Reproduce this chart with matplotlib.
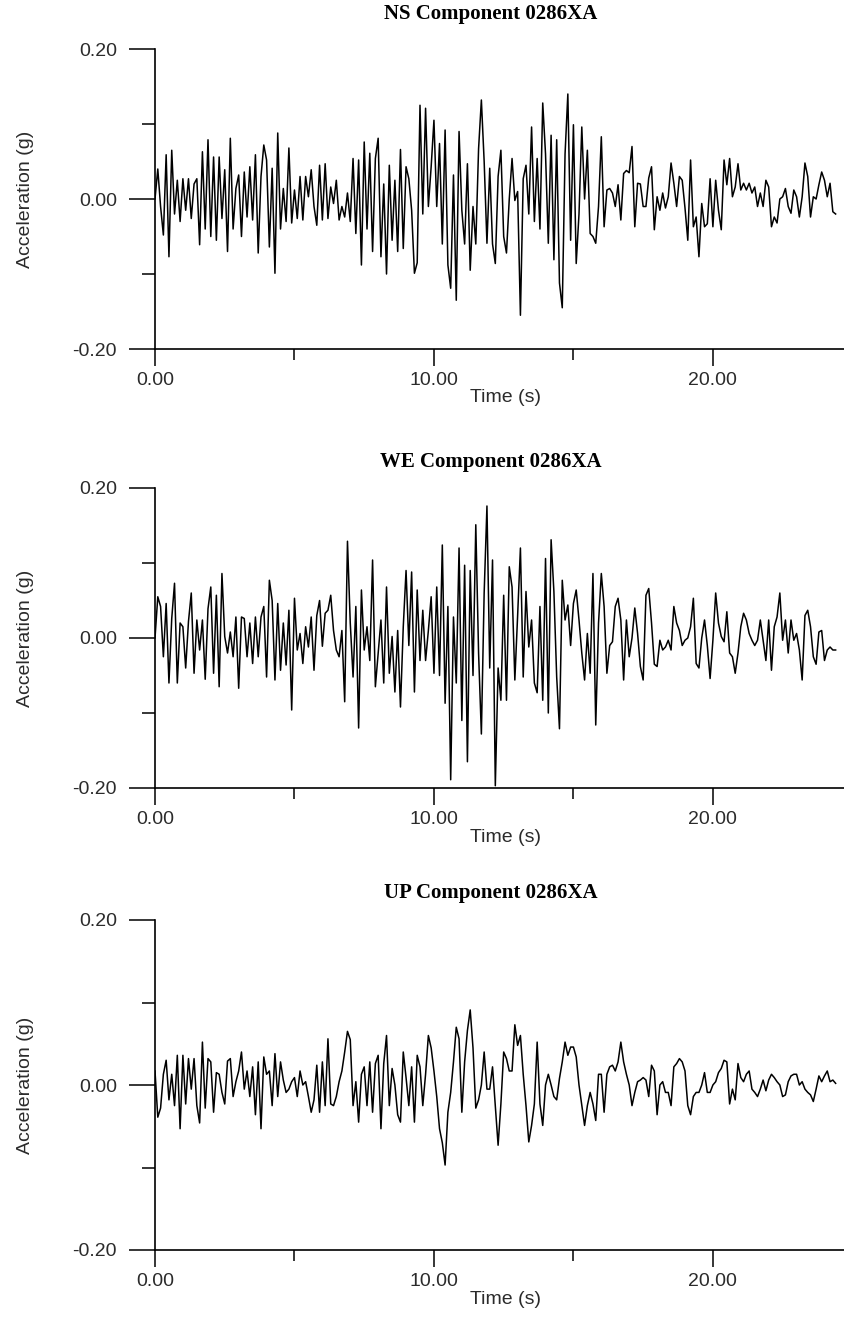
import numpy as np
import matplotlib
matplotlib.use("Agg")
import matplotlib.pyplot as plt
from matplotlib.ticker import FixedLocator

DT = 0.1  # sample step (s) of the traces

ns_acc = [
    0.00, 0.04, -0.01, -0.048, 0.059, -0.077, 0.065, -0.02, 0.025, -0.03,
    0.027, -0.015, 0.027, -0.026, 0.02, 0.027, -0.061, 0.063, -0.04, 0.079,
    -0.05, 0.056, -0.055, 0.056, -0.026, 0.039, -0.07, 0.081, -0.04, 0.014,
    0.032, -0.05, 0.036, -0.024, 0.043, -0.028, 0.059, -0.072, 0.03, 0.072,
    0.052, -0.064, 0.041, -0.099, 0.088, -0.04, 0.014, -0.03, 0.068, -0.032,
    0.012, -0.026, 0.03, -0.028, 0.03, 0.003, 0.039, -0.01, -0.035, 0.045,
    -0.028, 0.047, -0.026, 0.016, -0.006, 0.025, -0.028, -0.01, -0.024, 0.008,
    -0.03, 0.054, -0.046, 0.052, -0.088, 0.076, -0.04, 0.061, -0.07, 0.054,
    0.081, -0.077, 0.02, -0.10, 0.045, -0.055, 0.025, -0.07, 0.066, -0.066,
    0.043, 0.027, -0.015, -0.099, -0.085, 0.125, -0.02, 0.121, -0.01, 0.043,
    0.105, -0.01, 0.074, -0.06, 0.092, -0.088, -0.119, 0.032, -0.135, 0.09,
    -0.015, -0.06, 0.047, -0.095, -0.01, -0.06, 0.067, 0.132, 0.05, -0.059,
    0.041, -0.06, -0.086, 0.03, 0.065, -0.05, -0.072, 0.0, 0.054, -0.002,
    0.01, -0.155, 0.027, 0.045, -0.02, 0.096, -0.03, 0.054, -0.04, 0.128,
    0.06, -0.059, 0.085, -0.081, 0.079, -0.112, -0.145, 0.06, 0.14, -0.055,
    0.099, -0.086, -0.02, 0.096, 0.0, 0.065, -0.046, -0.05, -0.059, -0.01,
    0.083, -0.037, 0.012, 0.014, 0.008, -0.01, 0.019, -0.028, 0.034, 0.038,
    0.035, 0.07, -0.037, 0.021, 0.02, -0.01, -0.01, 0.028, 0.043, -0.041,
    0.003, -0.015, 0.008, -0.012, 0.003, 0.048, 0.021, -0.01, 0.03, 0.025,
    -0.012, -0.055, 0.052, -0.037, -0.024, -0.077, -0.006, -0.037, -0.033, 0.027,
    -0.037, 0.025, -0.015, -0.041, 0.052, 0.019, 0.054, 0.003, 0.016, 0.047,
    0.012, 0.021, 0.012, 0.021, 0.008, 0.016, -0.01, 0.008, -0.01, 0.025,
    0.016, -0.037, -0.024, -0.032, 0.0, 0.003, 0.014, -0.01, -0.019, 0.012,
    0.003, -0.024, 0.003, 0.048, 0.03, -0.024, 0.003, 0.0, 0.019, 0.036,
    0.025, 0.003, 0.021, -0.017, -0.02,
]

we_acc = [
    0.0, 0.055, 0.042, -0.025, 0.046, -0.06, 0.026, 0.073, -0.06, 0.02,
    0.015, -0.04, 0.022, 0.06, -0.047, 0.024, -0.016, 0.024, -0.055, 0.039,
    0.068, -0.047, 0.057, -0.065, 0.086, 0.002, -0.02, 0.008, -0.025, 0.028,
    -0.067, 0.028, 0.026, -0.025, 0.02, -0.034, 0.028, -0.025, 0.028, 0.042,
    -0.052, 0.077, 0.05, -0.056, 0.046, -0.043, 0.02, -0.036, 0.037, -0.096,
    0.053, -0.016, 0.006, -0.034, 0.015, -0.012, 0.028, -0.043, 0.03, 0.05,
    -0.011, 0.033, 0.037, 0.057, 0.01, -0.016, -0.025, 0.01, -0.085, 0.129,
    0.02, -0.052, 0.042, -0.12, 0.064, -0.016, 0.015, -0.03, 0.104, -0.065,
    -0.02, 0.024, -0.06, 0.068, -0.047, 0.002, -0.072, 0.01, -0.092, 0.015,
    0.09, -0.01, 0.088, -0.072, 0.064, -0.03, 0.037, -0.03, 0.01, 0.055,
    -0.047, 0.068, -0.05, 0.124, -0.087, 0.042, -0.189, 0.028, -0.06, 0.12,
    -0.11, 0.097, -0.165, 0.09, -0.05, 0.151, -0.02, -0.128, 0.06, 0.176,
    -0.04, 0.104, -0.197, -0.04, -0.083, 0.057, -0.083, 0.095, 0.068, -0.056,
    0.03, 0.12, -0.052, 0.062, -0.012, 0.024, -0.06, -0.073, 0.042, -0.083,
    0.106, -0.1, 0.131, 0.062, -0.052, -0.121, 0.077, 0.024, 0.044, -0.01,
    0.046, 0.064, 0.024, -0.02, -0.056, 0.006, -0.047, 0.086, -0.116, 0.02,
    0.086, 0.042, -0.047, -0.01, -0.005, 0.042, 0.053, 0.024, -0.056, 0.024,
    -0.025, 0.0, 0.04, 0.006, -0.038, -0.056, 0.057, 0.066, 0.02, -0.035,
    -0.038, -0.003, -0.016, -0.012, -0.003, -0.016, 0.042, 0.02, 0.01, -0.01,
    -0.003, 0.0, 0.015, 0.053, -0.034, -0.04, 0.0, 0.024, -0.01, -0.054,
    -0.003, 0.06, 0.02, 0.002, -0.005, 0.035, -0.02, -0.025, -0.047, -0.02,
    0.015, 0.033, 0.024, 0.006, -0.003, -0.01, -0.003, 0.024, -0.003, -0.03,
    0.024, -0.043, 0.015, 0.028, 0.06, -0.003, 0.024, -0.02, 0.024, -0.003,
    0.006, -0.016, -0.056, 0.03, 0.037, 0.015, -0.025, -0.035, 0.008, 0.01,
    -0.03, -0.016, -0.012, -0.016, -0.016,
]

up_acc = [
    0.017, -0.039, -0.028, 0.013, 0.03, -0.018, 0.013, -0.025, 0.036, -0.053,
    0.036, -0.023, 0.032, -0.005, 0.032, -0.025, -0.046, 0.052, -0.028, 0.032,
    0.028, -0.033, 0.015, 0.013, -0.009, -0.023, 0.029, 0.032, -0.014, 0.004,
    0.017, 0.04, -0.005, 0.017, -0.014, 0.022, -0.036, 0.028, -0.053, 0.034,
    0.013, 0.017, -0.025, 0.038, -0.014, 0.028, 0.006, -0.009, -0.005, 0.004,
    0.009, -0.014, 0.017, 0.0, 0.004, -0.014, -0.033, -0.018, 0.024, -0.033,
    0.028, -0.025, 0.056, -0.023, -0.025, -0.014, 0.004, 0.017, 0.04, 0.065,
    0.055, -0.025, 0.004, -0.045, 0.013, 0.022, -0.025, 0.028, -0.033, 0.026,
    0.036, -0.053, 0.026, 0.06, -0.025, 0.02, 0.0, -0.036, -0.045, 0.04,
    0.009, -0.025, 0.022, -0.045, 0.036, 0.022, -0.025, 0.013, 0.06, 0.045,
    0.017, -0.014, -0.053, -0.07, -0.097, -0.033, -0.009, 0.028, 0.07, 0.056,
    -0.033, 0.028, 0.066, 0.091, 0.045, -0.028, -0.018, 0.0, 0.04, -0.005,
    -0.005, 0.022, -0.025, -0.073, -0.023, 0.04, 0.032, 0.017, 0.017, 0.073,
    0.048, 0.06, 0.013, -0.025, -0.069, -0.049, -0.023, 0.052, -0.023, -0.049,
    0.0, 0.013, 0.0, -0.014, -0.018, 0.008, 0.028, 0.052, 0.036, 0.046,
    0.046, 0.034, 0.0, -0.025, -0.049, -0.025, -0.009, -0.023, -0.043, 0.013,
    0.013, -0.033, 0.013, 0.022, 0.024, 0.017, 0.028, 0.052, 0.028, 0.013,
    0.0, -0.025, -0.009, 0.004, 0.006, 0.009, 0.006, -0.014, 0.024, 0.017,
    -0.036, 0.0, 0.004, -0.009, -0.009, -0.025, 0.022, 0.026, 0.032, 0.028,
    0.017, -0.025, -0.036, -0.014, -0.009, -0.009, 0.0, 0.015, -0.009, -0.009,
    0.0, 0.004, 0.015, 0.02, 0.03, 0.028, -0.023, -0.005, -0.018, 0.026,
    0.009, 0.004, 0.013, 0.017, -0.005, -0.009, -0.014, -0.005, 0.006, -0.007,
    0.006, 0.013, 0.009, 0.004, 0.0, -0.014, -0.012, 0.004, 0.011, 0.013,
    0.013, 0.0, 0.004, -0.005, -0.009, -0.012, -0.02, -0.005, 0.011, 0.004,
    0.011, 0.017, 0.004, 0.006, 0.002,
]

titles = ["NS Component 0286XA", "WE Component 0286XA", "UP Component 0286XA"]
x_major = [0, 10, 20]
x_minor = [5, 15]
y_major = [-0.2, 0.0, 0.2]
y_minor = [-0.1, 0.1]

W, H = 844, 1320
fig = plt.figure(figsize=(W / 100, H / 100), dpi=100)

# pixel boxes of each panel: (y of 0.2, y of -0.2, title y)
panels = [(49, 349, 14), (488, 788, 462), (920, 1250, 893)]
x0 = 155
sans = "Liberation Sans"
txt_col = "#2b2b2b"

for data, title, (ptop, pbot, ty) in zip([ns_acc, we_acc, up_acc], titles, panels):
    ax = fig.add_axes([x0 / W, 1 - pbot / H, (W - x0) / W, (pbot - ptop) / H])
    t = np.arange(len(data)) * DT
    ax.plot(t, data, color="black", lw=1.1)
    ax.set_xlim(0, 24.7)
    ax.set_ylim(-0.2, 0.2)
    for s in ["top", "right"]:
        ax.spines[s].set_visible(False)
    for s in ["left", "bottom"]:
        ax.spines[s].set_linewidth(1.2)
    ax.xaxis.set_major_locator(FixedLocator(x_major))
    ax.xaxis.set_minor_locator(FixedLocator(x_minor))
    ax.yaxis.set_major_locator(FixedLocator(y_major))
    ax.yaxis.set_minor_locator(FixedLocator(y_minor))
    ax.set_xticklabels(["%.2f" % v for v in x_major])
    ax.set_yticklabels(["%.2f" % v for v in y_major])
    ax.tick_params(axis="x", which="major", direction="out", length=12.5, width=1.1,
                   pad=4, labelsize=14, labelcolor=txt_col)
    ax.tick_params(axis="x", which="minor", direction="out", length=8, width=1.1)
    ax.tick_params(axis="y", which="major", direction="out", length=18.5, width=1.1,
                   pad=9, labelsize=14, labelcolor=txt_col)
    ax.tick_params(axis="y", which="minor", direction="out", length=9.5, width=1.1)
    for lab in ax.get_xticklabels() + ax.get_yticklabels():
        lab.set_family(sans)
    # x label sits a fixed pixel distance below the axis line
    ax.text(0.508, -49 / (pbot - ptop), "Time (s)", transform=ax.transAxes,
            ha="center", va="center", fontsize=14, family=sans, color=txt_col)
    ax.text(-0.188, 0.5, "Acceleration (g)", transform=ax.transAxes, rotation=90,
            ha="center", va="center", fontsize=14, family=sans, color=txt_col)
    fig.text(491 / W, 1 - ty / H, title, ha="center", va="center", fontsize=15,
             family="Liberation Serif", fontweight="bold")

fig.savefig("out.png", dpi=100)
